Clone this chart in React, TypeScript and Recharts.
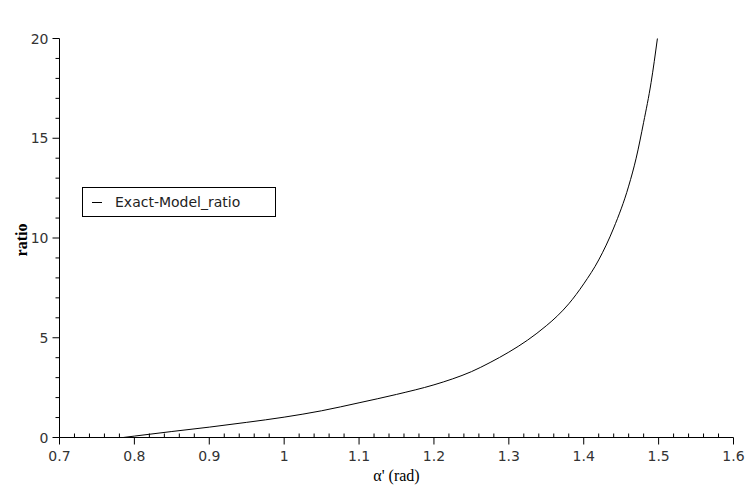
import { Label, Legend, Line, LineChart, XAxis, YAxis } from "recharts";

// alpha' in radians
const alphaValues = [
  0.785, 0.8, 0.85, 0.9, 0.95, 1.0, 1.05, 1.1, 1.15, 1.2, 1.225, 1.25, 1.275,
  1.3, 1.325, 1.35, 1.365, 1.38, 1.4, 1.42, 1.44, 1.46, 1.47, 1.48, 1.49,
  1.4984,
];
const ratioValues = [
  0, 0.07, 0.3, 0.52, 0.76, 1.02, 1.34, 1.74, 2.16, 2.64, 2.94, 3.3, 3.76,
  4.28, 4.88, 5.6, 6.1, 6.7, 7.7, 8.9, 10.5, 12.6, 14.0, 15.8, 17.8, 20,
];

const xTicks = Array.from({ length: 46 }, (_, i) => (35 + i) / 50);
const yTicks = Array.from({ length: 21 }, (_, i) => i);

const data = alphaValues.map((x, i) => ({ x, ratio: ratioValues[i] }));

const TICK_FONT = { fontFamily: "DejaVu Sans", fontSize: 14, fill: "#333" };

function XTick(props: any) {
  const { x, y, payload } = props;
  const major = Math.round(payload.value * 50) % 5 === 0;
  if (!major) {
    return <line x1={x} x2={x} y1={y} y2={y - 4} stroke="#000" />;
  }
  return (
    <g>
      <line x1={x} x2={x} y1={y} y2={y + 7} stroke="#000" />
      <text x={x} y={y + 23} textAnchor="middle" {...TICK_FONT}>
        {String(Math.round(payload.value * 10) / 10)}
      </text>
    </g>
  );
}

function YTick(props: any) {
  const { x, y, payload } = props;
  const major = payload.value % 5 === 0;
  if (!major) {
    return <line x1={x - 4} x2={x} y1={y} y2={y} stroke="#000" />;
  }
  return (
    <g>
      <line x1={x - 7} x2={x} y1={y} y2={y} stroke="#000" />
      <text x={x - 11} y={y + 5} textAnchor="end" {...TICK_FONT}>
        {payload.value}
      </text>
    </g>
  );
}

function LegendBox() {
  return (
    <div
      style={{
        border: "1px solid #000",
        width: 192,
        height: 28,
        display: "flex",
        alignItems: "center",
        background: "#fff",
        fontFamily: "DejaVu Sans",
        fontSize: 14,
        color: "#222",
      }}
    >
      <span
        style={{
          display: "inline-block",
          width: 10,
          borderTop: "1px solid #000",
          marginLeft: 9,
          marginRight: 13,
        }}
      />
      <span>Exact-Model_ratio</span>
    </div>
  );
}

export default function App() {
  return (
    <div style={{ position: "absolute", left: 0, top: 0, background: "#fff" }}>
      <LineChart
        width={747}
        height={486}
        data={data}
        margin={{ top: 38.5, right: 13.5, left: 0, bottom: 0 }}
      >
        <XAxis
          type="number"
          dataKey="x"
          domain={[0.7, 1.6]}
          ticks={xTicks}
          interval={0}
          height={48.5}
          tickSize={0}
          tickMargin={0}
          tickLine={false}
          tick={<XTick />}
          axisLine={{ stroke: "#000" }}
        >
          <Label
            content={(p: any) => (
              <text
                x={p.viewBox.x + p.viewBox.width / 2}
                y={p.viewBox.y + 43}
                textAnchor="middle"
                fontFamily="Liberation Serif"
                fontSize={16}
                fill="#000"
              >
                α' (rad)
              </text>
            )}
          />
        </XAxis>
        <YAxis
          type="number"
          domain={[0, 20]}
          ticks={yTicks}
          interval={0}
          width={59.5}
          tickSize={0}
          tickMargin={0}
          tickLine={false}
          tick={<YTick />}
          axisLine={{ stroke: "#000" }}
        >
          <Label
            content={(p: any) => {
              const cx = 21;
              const cy = p.viewBox.y + p.viewBox.height / 2 + 2;
              return (
                <text
                  x={cx}
                  y={cy}
                  transform={`rotate(-90 ${cx} ${cy})`}
                  textAnchor="middle"
                  dominantBaseline="central"
                  fontFamily="Liberation Serif"
                  fontWeight="bold"
                  fontSize={16}
                  fill="#000"
                >
                  ratio
                </text>
              );
            }}
          />
        </YAxis>
        <Legend
          layout="vertical"
          align="center"
          verticalAlign="middle"
          content={() => <LegendBox />}
          wrapperStyle={{ left: 82, top: 187, width: "auto", height: "auto" }}
        />
        <Line
          type="monotone"
          dataKey="ratio"
          name="Exact-Model_ratio"
          stroke="#000"
          strokeWidth={1}
          dot={false}
          isAnimationActive={false}
        />
      </LineChart>
    </div>
  );
}
